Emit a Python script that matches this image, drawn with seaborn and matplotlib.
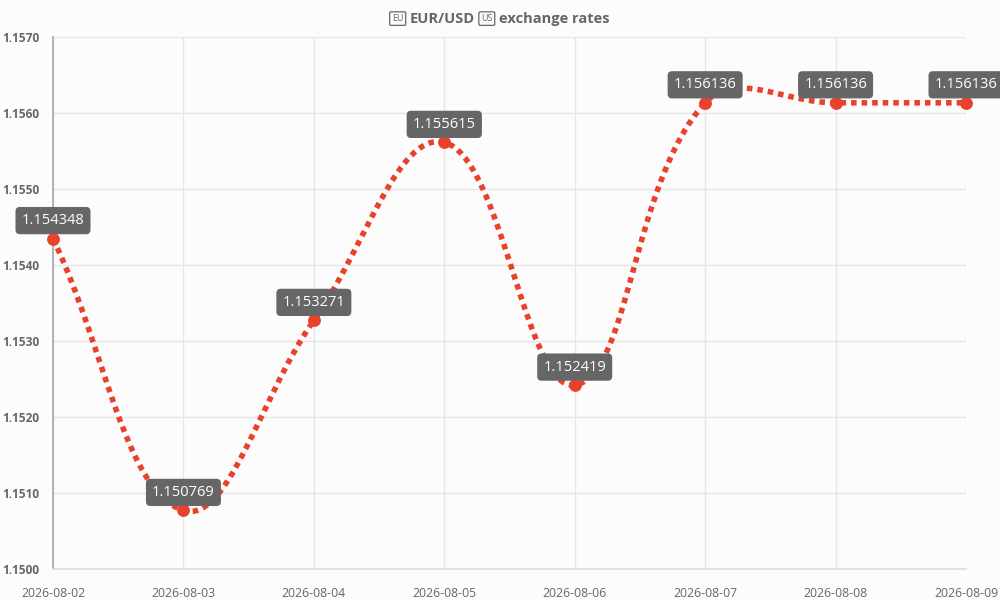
import numpy as np
import pandas as pd
import seaborn as sns
import matplotlib.pyplot as plt

dates = ['2026-08-02', '2026-08-03', '2026-08-04', '2026-08-05',
         '2026-08-06', '2026-08-07', '2026-08-08', '2026-08-09']
rates = [1.154348, 1.150769, 1.153271, 1.155615,
         1.152419, 1.156136, 1.156136, 1.156136]
yticks = [1.1500, 1.1510, 1.1520, 1.1530, 1.1540, 1.1550, 1.1560, 1.1570]
title_parts = ['EU', 'EUR/USD', 'US', 'exchange rates']  # flags drawn as boxed letters

df = pd.DataFrame({'idx': np.arange(len(dates)), 'date': dates, 'rate': rates})

sns.set_theme(style='whitegrid')
plt.rcParams['font.family'] = ['Open Sans', 'Noto Sans', 'DejaVu Sans']

fig = plt.figure(figsize=(10, 6), dpi=100, facecolor='#fcfcfc')
ax = fig.add_axes([0.053, 0.052, 0.913, 0.886])
ax.set_facecolor('#fcfcfc')
ax.set_xlim(0, len(dates) - 1)
ax.set_ylim(1.1500, 1.1570)

# bezier smoothing like chart.js (tension 0.4), worked out in pixel space
sx = 913 / (len(dates) - 1)
sy = 532 / 0.007
px = df['idx'].values * sx
py = df['rate'].values * sy
t = 0.4
cp_prev, cp_next = [], []
for i in range(len(px)):
    p0 = (px[max(i - 1, 0)], py[max(i - 1, 0)])
    p1 = (px[i], py[i])
    p2 = (px[min(i + 1, len(px) - 1)], py[min(i + 1, len(px) - 1)])
    d01 = np.hypot(p1[0] - p0[0], p1[1] - p0[1])
    d12 = np.hypot(p2[0] - p1[0], p2[1] - p1[1])
    s01 = d01 / (d01 + d12) if d01 + d12 else 0
    s12 = d12 / (d01 + d12) if d01 + d12 else 0
    fa, fb = t * s01, t * s12
    cp_prev.append((p1[0] - fa * (p2[0] - p0[0]), p1[1] - fa * (p2[1] - p0[1])))
    cp_next.append((p1[0] + fb * (p2[0] - p0[0]), p1[1] + fb * (p2[1] - p0[1])))
cx, cy = [], []
u = np.linspace(0, 1, 40)
for i in range(len(px) - 1):
    P0 = np.array([px[i], py[i]]); P1 = np.array(cp_next[i])
    P2 = np.array(cp_prev[i + 1]); P3 = np.array([px[i + 1], py[i + 1]])
    b = ((1 - u) ** 3)[:, None] * P0 + (3 * (1 - u) ** 2 * u)[:, None] * P1 \
        + (3 * (1 - u) * u ** 2)[:, None] * P2 + (u ** 3)[:, None] * P3
    cx.extend(b[:, 0] / sx); cy.extend(b[:, 1] / sy)

red = '#e8412c'
ax.plot(cx, cy, color=red, lw=4, ls=(0, (1, 0.9)), solid_capstyle='butt', zorder=3)
sns.scatterplot(data=df, x='idx', y='rate', color=red, s=85, edgecolor=red,
                linewidth=0, ax=ax, zorder=4, clip_on=False)

for i, v in zip(df['idx'], df['rate']):
    ax.annotate(f'{v:.6f}', (i, v), xytext=(0, 18), textcoords='offset pixels',
                ha='center', va='center', color='white', fontsize=10.5,
                bbox=dict(boxstyle='round,pad=0.42,rounding_size=0.3',
                          fc='#666666', ec='none'), zorder=5, annotation_clip=False)

ax.set_xticks(df['idx'])
ax.set_xticklabels(dates, fontsize=8.8, color='#666666')
ax.set_yticks(yticks)
ax.set_yticklabels([f'{v:.4f}' for v in yticks], fontsize=8.6, color='#666666',
                   fontweight='bold')
ax.tick_params(axis='both', length=8, width=1, color='#dddddd', pad=2)
ax.tick_params(axis='x', pad=5)
ax.grid(True, color='#e6e6e6', lw=1)
for s in ['top', 'right']:
    ax.spines[s].set_visible(False)
ax.spines['left'].set_color('#aaaaaa')
ax.spines['bottom'].set_color('#dddddd')
ax.set_xlabel('')
ax.set_ylabel('')

# title built from pieces, the flag glyphs as small boxed letters
renderer = fig.canvas.get_renderer()
pieces, extra = [], []
for k, part in enumerate(title_parts):
    if k % 2 == 0:
        txt = fig.text(0, 0, part, fontsize=6.5, color='#666666', va='center', ha='center',
                       bbox=dict(boxstyle='round,pad=0.25,rounding_size=0.15', fc='none',
                                 ec='#666666', lw=0.9))
        extra.append(14)
    else:
        txt = fig.text(0, 0, part, fontsize=10.5, fontweight='bold', color='#666666',
                       va='center', ha='center')
        extra.append(None)
    pieces.append(txt)
widths = [e if e else p.get_window_extent(renderer).width for p, e in zip(pieces, extra)]
gap = 5
x0 = 500 - (sum(widths) + gap * (len(widths) - 1)) / 2
for p, w in zip(pieces, widths):
    p.set_position(((x0 + w / 2) / 1000, 0.969))
    x0 += w + gap

fig.savefig('out.png', dpi=100, facecolor=fig.get_facecolor())
